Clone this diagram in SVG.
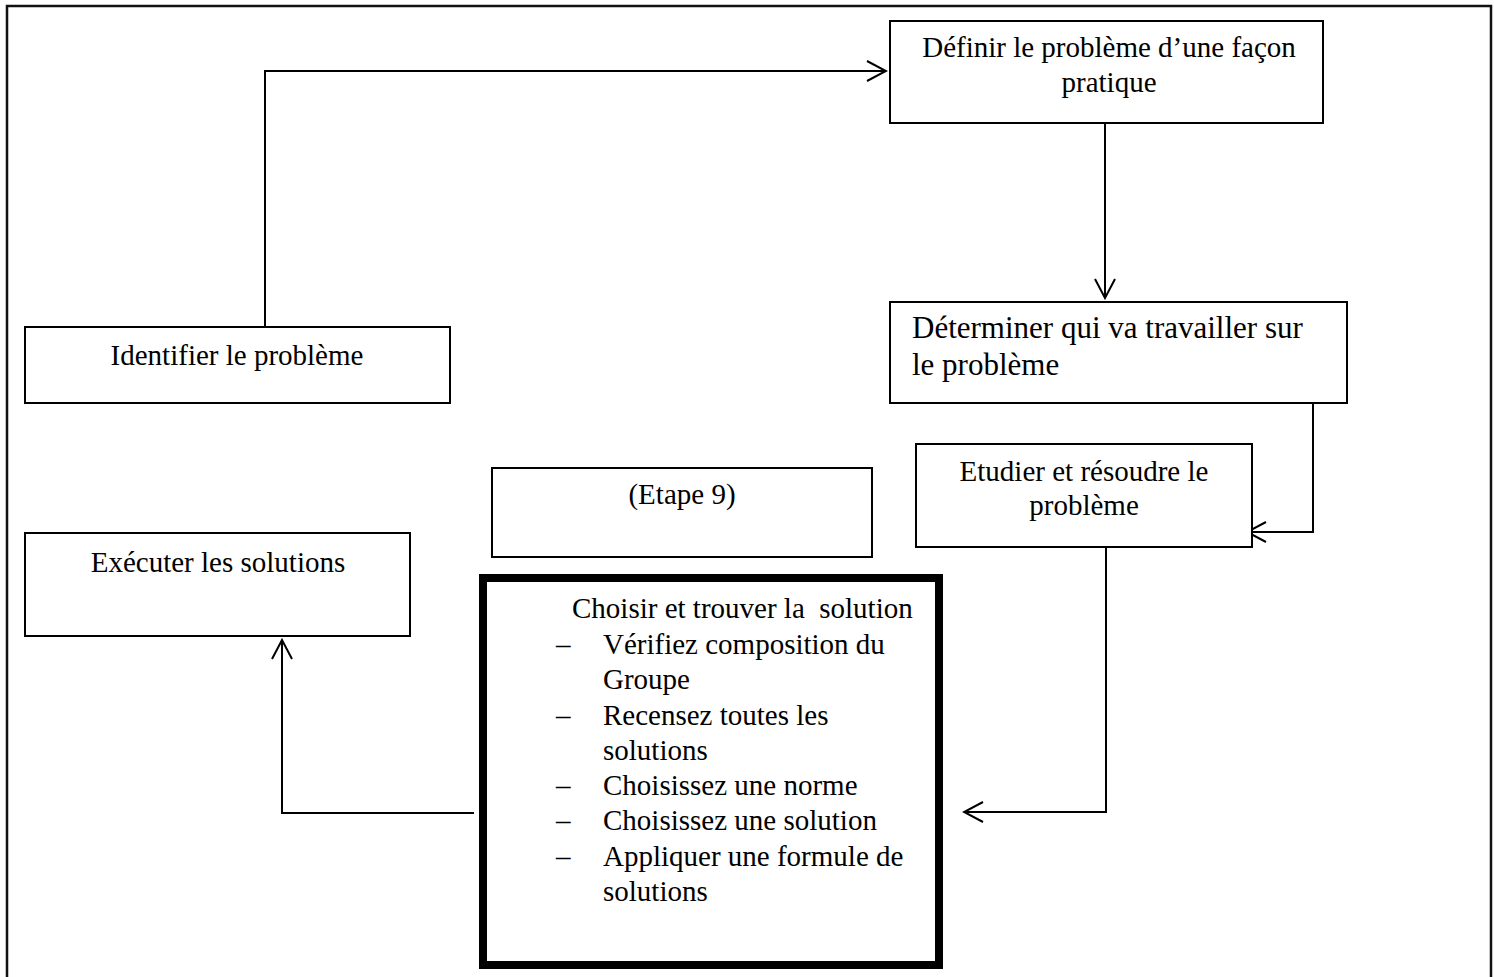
<svg xmlns="http://www.w3.org/2000/svg" width="1494" height="977" viewBox="0 0 1494 977">
<style>
.box{fill:#fff;stroke:#000;stroke-width:2}
.thick{fill:#fff;stroke:#000;stroke-width:8}
.t{font-family:"Liberation Serif","Times New Roman",serif;font-size:29px;fill:#000}
.c{text-anchor:middle}
.cam{font-family:"Liberation Serif","Times New Roman",serif;font-size:31px;fill:#000}
.conn{fill:none;stroke:#000;stroke-width:2}
</style>
<defs>
<marker id="arr" viewBox="-22 -12 24 24" refX="0" refY="0" markerWidth="24" markerHeight="24" markerUnits="userSpaceOnUse" orient="auto">
<path d="M-19,-10 L0,0 L-19,10" fill="none" stroke="#000" stroke-width="2"/>
</marker>
</defs>
<rect x="0" y="0" width="1494" height="977" fill="#fff"/>
<path d="M7,985 V6 H1491 V985" fill="none" stroke="#111" stroke-width="2.5"/>
<g id="connectors">
<path class="conn" d="M265,327 V71 H886" marker-end="url(#arr)"/>
<path class="conn" d="M1105,123 V298" marker-end="url(#arr)"/>
<path class="conn" d="M1313,403 V532 H1247" marker-end="url(#arr)"/>
<path class="conn" d="M1106,547 V812 H964" marker-end="url(#arr)"/>
<path class="conn" d="M474,813 H282 V640" marker-end="url(#arr)"/>
</g>
<g id="n-definir">
<rect class="box" x="890" y="21" width="433" height="102"/>
<text class="t c" x="1109" y="57">Définir le problème d’une façon</text>
<text class="t c" x="1109" y="92">pratique</text>
</g>
<g id="n-determiner">
<rect class="box" x="890" y="302" width="457" height="101"/>
<text class="cam" x="912" y="338">Déterminer qui va travailler sur</text>
<text class="cam" x="912" y="375">le problème</text>
</g>
<g id="n-identifier">
<rect class="box" x="25" y="327" width="425" height="76"/>
<text class="t c" x="237" y="365">Identifier le problème</text>
</g>
<g id="n-etudier">
<rect class="box" x="916" y="444" width="336" height="103"/>
<text class="t c" x="1084" y="481">Etudier et résoudre le</text>
<text class="t c" x="1084" y="515">problème</text>
</g>
<g id="n-etape">
<rect class="box" x="492" y="468" width="380" height="89"/>
<text class="t c" x="682" y="504">(Etape 9)</text>
</g>
<g id="n-executer">
<rect class="box" x="25" y="533" width="385" height="103"/>
<text class="t c" x="218" y="572">Exécuter les solutions</text>
</g>
<g id="n-choisir">
<rect class="thick" x="483" y="578" width="456" height="387"/>
<text class="t" x="572" y="618" style="white-space:pre">Choisir et trouver la  solution</text>
<text class="t" x="556" y="654">–</text><text class="t" x="603" y="654">Vérifiez composition du</text>
<text class="t" x="603" y="689">Groupe</text>
<text class="t" x="556" y="725">–</text><text class="t" x="603" y="725">Recensez toutes les</text>
<text class="t" x="603" y="760">solutions</text>
<text class="t" x="556" y="795">–</text><text class="t" x="603" y="795">Choisissez une norme</text>
<text class="t" x="556" y="830">–</text><text class="t" x="603" y="830">Choisissez une solution</text>
<text class="t" x="556" y="866">–</text><text class="t" x="603" y="866">Appliquer une formule de</text>
<text class="t" x="603" y="901">solutions</text>
</g>
</svg>
